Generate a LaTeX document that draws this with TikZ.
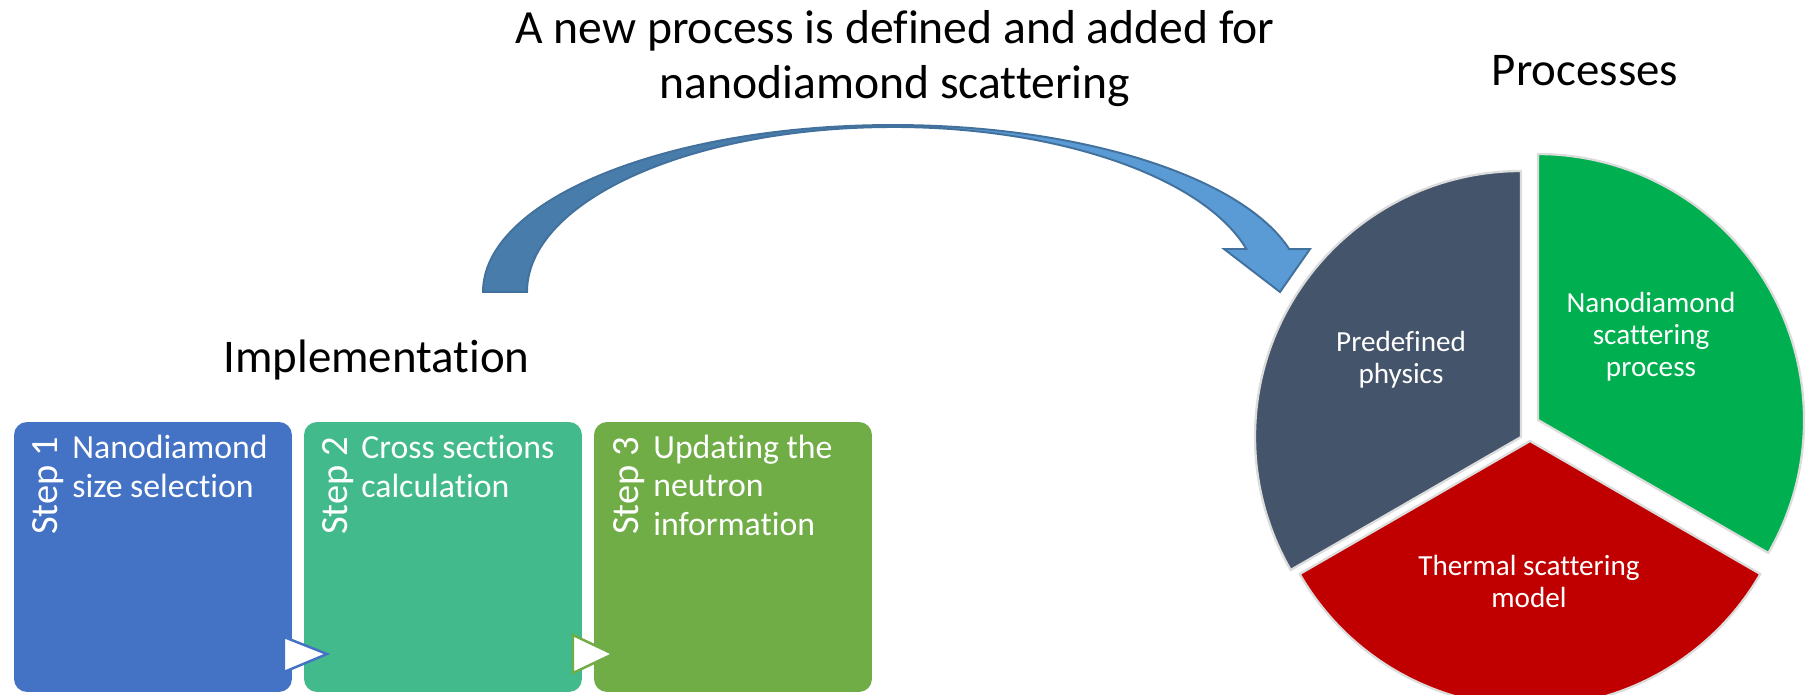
\documentclass[tikz,border=0pt]{standalone}
\usepackage{fontspec}
\setmainfont{Carlito}[Ligatures=NoCommon]
\definecolor{cstepA}{HTML}{4472C4}
\definecolor{cstepB}{RGB}{67,186,140}
\definecolor{cstepC}{HTML}{70AD47}
\definecolor{cpieA}{HTML}{44546A}
\definecolor{cpieB}{HTML}{00B050}
\definecolor{cpieC}{HTML}{C00000}
\definecolor{sliceline}{HTML}{DCDCDC}
\definecolor{arrdark}{RGB}{72,124,170}
\definecolor{arrlight}{HTML}{5B9BD5}
\definecolor{arrline}{HTML}{41719C}
\tikzset{
 stepbox/.style={rectangle, rounded corners=0.26cm, inner sep=0pt, outer sep=0pt, minimum width=5.56cm, minimum height=5.4cm, anchor=north west},
 steplabel/.style={rotate=90, anchor=base west, inner sep=0pt, text=white, font=\fontsize{21.9}{26}\selectfont},
 steptext/.style={anchor=base west, inner sep=0pt, text=white, align=left, font=\fontsize{19.2}{21.9}\selectfont},
 pietext/.style={anchor=base, inner sep=0pt, text=white, align=center, font=\fontsize{16.6}{18.2}\selectfont},
 bigtext/.style={inner sep=0pt, text=black, font=\fontsize{26.7}{31.3}\selectfont},
 slice/.style={draw=sliceline, line width=1.3pt, line join=round},
 chev/.style={fill=white, line width=1.4pt, line join=miter},
 arrpart/.style={draw=arrline, line width=1.1pt, line join=miter},
}
\begin{document}
\begin{tikzpicture}[x=0.02cm,y=-0.02cm]
\useasboundingbox (0,0) rectangle (1814,694);
\clip (0,0) rectangle (1814,694);

% titles (anchor = baseline of the last line)
\node[bigtext, align=center, anchor=base, font=\fontsize{27.1}{31.3}\selectfont] (title) at (895,98) {A new process is defined and added for\\nanodiamond scattering};
\node[bigtext, anchor=base] (proc) at (1585,85) {Processes};
\node[bigtext, anchor=base west] (impl) at (223,372) {Implementation};

% step boxes
\node[stepbox, fill=cstepA] (box1) at (14,422) {};
\node[stepbox, fill=cstepB] (box2) at (304,422) {};
\node[stepbox, fill=cstepC] (box3) at (594,422) {};

\node[steplabel] (lab1) at (57,535) {Step 1};
\node[steplabel] (lab2) at (347,535) {Step 2};
\node[steplabel] (lab3) at (638,535) {Step 3};

\node[steptext] (txt1) at (72,497) {Nanodiamond\\size selection};
\node[steptext] (txt2) at (361,497) {Cross sections\\calculation};
\node[steptext] (txt3) at (653,535) {Updating the\\neutron\\information};

% chevrons between steps
\draw[chev, draw=cstepA] (284,637) -- (327,654) -- (284,672) -- cycle;
\draw[chev, draw=cstepC] (573,635) -- (613,654) -- (573,673) -- cycle;

% curved arrow
\coordinate (ac) at (893,292);
\filldraw[arrpart, fill=arrdark] (ac) ++(180:410 and 167)
  arc[start angle=180, end angle=270, x radius=410, y radius=167]
  -- ++(0,2)
  arc[start angle=270, end angle=180, x radius=366, y radius=165] -- cycle;
\filldraw[arrpart, fill=arrlight] (ac) ++(270:410 and 167)
  arc[start angle=270, end angle=345.1, x radius=410, y radius=167]
  -- (1310,249) -- (1280,292) -- (1224,249) -- (1246.4,249)
  arc[start angle=344.9, end angle=270, x radius=366, y radius=165] -- cycle;

% pie
\coordinate (pa) at (1521,437);
\coordinate (pb) at (1538,420);
\coordinate (pc) at (1530,441);
\filldraw[slice, fill=cpieA] (pa) -- ++(-90:266) arc[start angle=-90, end angle=-210, radius=266] -- cycle;
\filldraw[slice, fill=cpieB] (pb) -- ++(30:266) arc[start angle=30, end angle=-90, radius=266] -- cycle;
\filldraw[slice, fill=cpieC] (pc) -- ++(150:266) arc[start angle=150, end angle=30, radius=266] -- cycle;

\node[pietext] (pt1) at (1401,383) {Predefined\\physics};
\node[pietext] (pt2) at (1651,376) {Nanodiamond\\scattering\\process};
\node[pietext] (pt3) at (1529,607) {Thermal scattering\\model};
\end{tikzpicture}
\end{document}
